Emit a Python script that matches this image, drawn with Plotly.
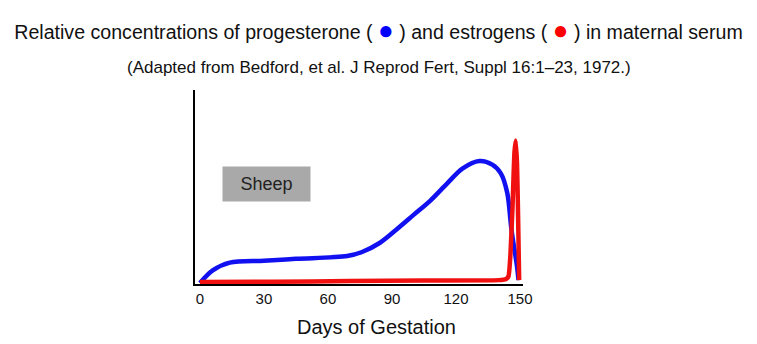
import plotly.graph_objects as go

# Relative hormone levels in maternal serum of the ewe (arbitrary units, 0-100)
prog_days = [0, 6, 14, 30, 45, 69, 76, 84, 92, 100, 108, 116, 123, 131, 137, 141, 144, 146, 148.6, 149.3]
prog_vals = [0.5, 7, 11, 12, 13, 14.4, 16.5, 21, 28, 35.5, 43, 52, 59.5, 63.4, 61.5, 57, 47, 28, 9, 2]

estr_days = [0, 35, 70, 105, 140, 143.5, 144.6, 145.5, 146.5, 147.4, 148.0, 148.6, 149.1, 149.6]
estr_vals = [1, 1.2, 1.5, 1.8, 2, 2.6, 4, 15, 40, 68, 74, 62, 35, 2]

tick_vals = [0, 30, 60, 90, 120, 150]
tick_text = ["0", "30", "60", "90", "120", "150"]

FONT = "Liberation Sans, Arial, sans-serif"

fig = go.Figure()
fig.add_trace(go.Scatter(
    x=prog_days, y=prog_vals, mode="lines",
    line=dict(color="#1010f0", width=4.5, shape="spline", smoothing=0.9),
    hoverinfo="skip", showlegend=False,
))
fig.add_trace(go.Scatter(
    x=estr_days, y=estr_vals, mode="lines",
    line=dict(color="#f01010", width=4.5, shape="spline", smoothing=0.5),
    hoverinfo="skip", showlegend=False,
))

dot = "<span style='color:{};font-size:26px'>●</span>"

fig.update_layout(
    width=757, height=344,
    margin=dict(l=195, r=234, t=90, b=60),
    paper_bgcolor="white", plot_bgcolor="white",
    font=dict(family=FONT, color="black"),
    title=dict(
        text="Relative concentrations of progesterone ( " + dot.format("#0000ff") + " ) "
             "and estrogens ( " + dot.format("#ff0000") + " ) in maternal serum",
        x=0.5, xanchor="center", y=1 - 32 / 344, yanchor="middle",
        font=dict(size=19.6, color="#111"),
    ),
    xaxis=dict(
        range=[-2.3, 151.4], showgrid=False, zeroline=False,
        showline=True, linecolor="black", linewidth=1.5,
        tickmode="array", tickvals=tick_vals, ticktext=tick_text,
        ticks="", tickfont=dict(size=15, color="#111"),
    ),
    yaxis=dict(
        range=[0, 100], showgrid=False, zeroline=False,
        showline=True, linecolor="black", linewidth=1.5,
        showticklabels=False, ticks="",
    ),
    annotations=[
        dict(
            text="(Adapted from Bedford, et al. J Reprod Fert, Suppl 16:1–23, 1972.)",
            xref="paper", yref="paper", x=0.561, y=(284 - 67) / 194,
            xanchor="center", yanchor="middle", showarrow=False,
            font=dict(size=17, color="#111"),
        ),
        dict(
            text="Days of Gestation",
            xref="paper", yref="paper", x=(376 - 195) / 328, y=(284 - 327) / 194,
            xanchor="center", yanchor="middle", showarrow=False,
            font=dict(size=20, color="#111"),
        ),
        dict(
            text="Sheep", xref="x", yref="y", x=31.2, y=51.5,
            xanchor="center", yanchor="middle", showarrow=False,
            bgcolor="#a9a9a9", width=83, height=30, borderpad=2,
            font=dict(size=18, color="#222"),
        ),
    ],
)

fig.write_html("out.html")
